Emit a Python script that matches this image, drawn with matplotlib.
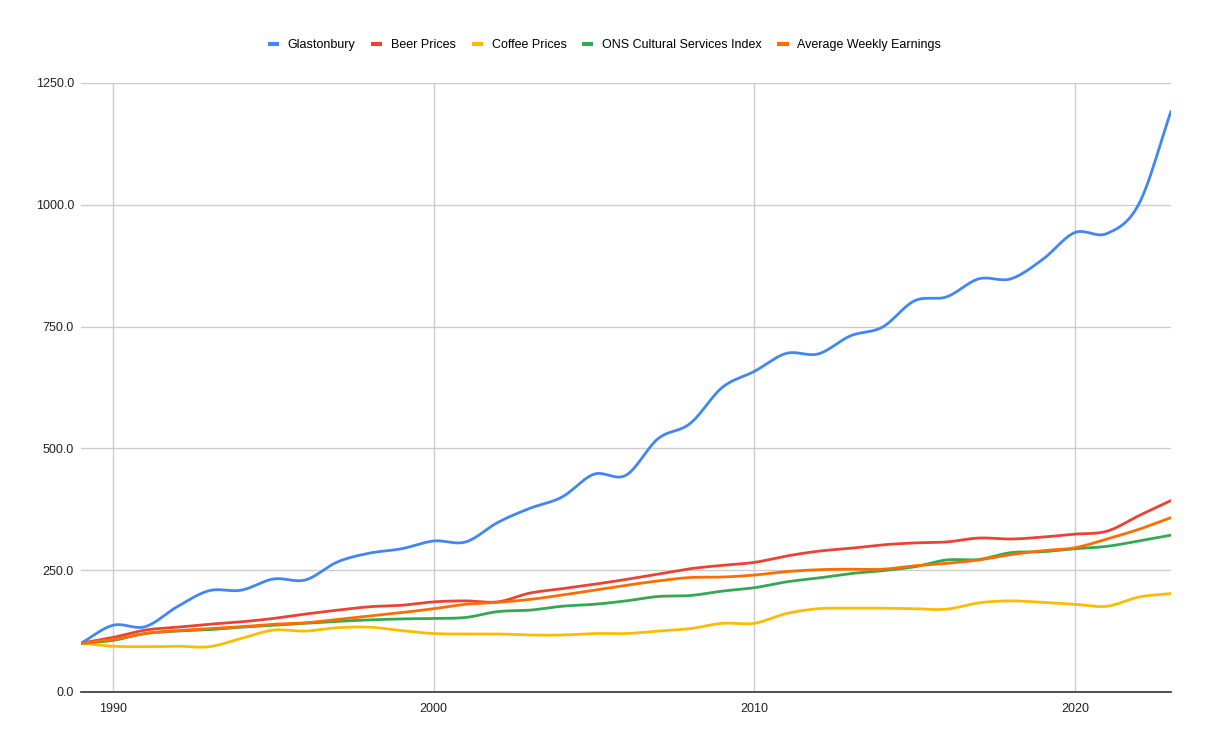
import numpy as np
import matplotlib
matplotlib.use("Agg")
import matplotlib.pyplot as plt
from matplotlib.lines import Line2D

plt.rcParams['font.family'] = ['Liberation Sans', 'DejaVu Sans']

# Data, index 1989 = 100
years = list(range(1989, 2024))

glastonbury = [100, 137, 134, 175, 208, 209, 232, 230, 267, 285, 294, 310, 308,
               348, 377, 400, 447, 445, 520, 551, 625, 658, 695, 694, 731, 749,
               803, 811, 848, 848, 888, 943, 941, 1002, 1192]
beer = [100, 112, 127, 133, 139, 144, 151, 160, 168, 175, 178, 185, 187,
        185, 203, 212, 221, 231, 242, 253, 260, 266, 279, 289, 295, 302,
        306, 308, 316, 314, 318, 324, 330, 362, 393]
coffee = [100, 94, 93, 94, 93, 110, 127, 125, 132, 133, 126, 120, 119,
          119, 117, 117, 120, 120, 125, 130, 141, 141, 161, 171, 172, 172,
          171, 170, 183, 187, 184, 180, 176, 195, 202]
ons_cultural = [100, 106, 120, 125, 128, 133, 137, 141, 145, 148, 150, 151, 153,
                165, 168, 176, 180, 187, 196, 198, 207, 214, 226, 234, 243, 249,
                257, 271, 272, 286, 288, 294, 299, 310, 322]
weekly_earnings = [100, 108, 120, 126, 130, 134, 139, 142, 149, 156, 163, 171, 180,
                   184, 190, 199, 209, 219, 228, 235, 236, 240, 247, 251, 252, 252,
                   259, 264, 271, 282, 290, 296, 314, 334, 358]

series = [
    ("Glastonbury", glastonbury, "#4285F4"),
    ("Beer Prices", beer, "#EA4335"),
    ("Coffee Prices", coffee, "#FBBC04"),
    ("ONS Cultural Services Index", ons_cultural, "#34A853"),
    ("Average Weekly Earnings", weekly_earnings, "#FF6D01"),
]


# Catmull-Rom style smoothing, like the spreadsheet's "smooth" lines
def smooth(x, y, steps=20):
    x = np.asarray(x, float)
    y = np.asarray(y, float)
    n = len(x)
    m = np.zeros(n)
    m[1:-1] = (y[2:] - y[:-2]) / (x[2:] - x[:-2])
    m[0] = (y[1] - y[0]) / (x[1] - x[0])
    m[-1] = (y[-1] - y[-2]) / (x[-1] - x[-2])
    xs, ys = [], []
    for i in range(n - 1):
        h = x[i + 1] - x[i]
        t = np.linspace(0, 1, steps, endpoint=False)
        h00 = 2 * t**3 - 3 * t**2 + 1
        h10 = t**3 - 2 * t**2 + t
        h01 = -2 * t**3 + 3 * t**2
        h11 = t**3 - t**2
        xs.append(x[i] + t * h)
        ys.append(h00 * y[i] + h10 * h * m[i] + h01 * y[i + 1] + h11 * h * m[i + 1])
    xs.append([x[-1]])
    ys.append([y[-1]])
    return np.concatenate(xs), np.concatenate(ys)


fig = plt.figure(figsize=(12.09, 7.5), dpi=100)
ax = fig.add_axes([81 / 1209, 58 / 750, 1090 / 1209, 609 / 750])

for name, vals, color in series:
    sx, sy = smooth(years, vals)
    ax.plot(sx, sy, color=color, lw=2, solid_capstyle='round', label=name)

ax.set_xlim(1989, 2023)
ax.set_ylim(0, 1250)
ax.set_xticks([1990, 2000, 2010, 2020])
ax.set_yticks([0, 250, 500, 750, 1000, 1250])
ax.set_yticklabels([f"{v:.1f}" for v in [0, 250, 500, 750, 1000, 1250]])
ax.grid(True, color='#cccccc', lw=1)
ax.set_axisbelow(True)
for s in ['top', 'right', 'left']:
    ax.spines[s].set_visible(False)
ax.spines['bottom'].set_color('#333333')
ax.spines['bottom'].set_linewidth(1.2)
ax.tick_params(axis='both', length=0, labelsize=9, colors='#222222')
ax.tick_params(axis='y', pad=5)
ax.tick_params(axis='x', pad=8)

# short flat legend keys like the original
handles = [Line2D([0], [0], color=c, lw=3, solid_capstyle='butt') for _, _, c in series]
fig.legend(handles, [n for n, _, _ in series], loc='center', bbox_to_anchor=(0.5, 1 - 45 / 750),
           ncol=5, frameon=False, fontsize=9, handlelength=0.9, handletextpad=0.7,
           columnspacing=1.25)

fig.savefig("out.png", dpi=100)
